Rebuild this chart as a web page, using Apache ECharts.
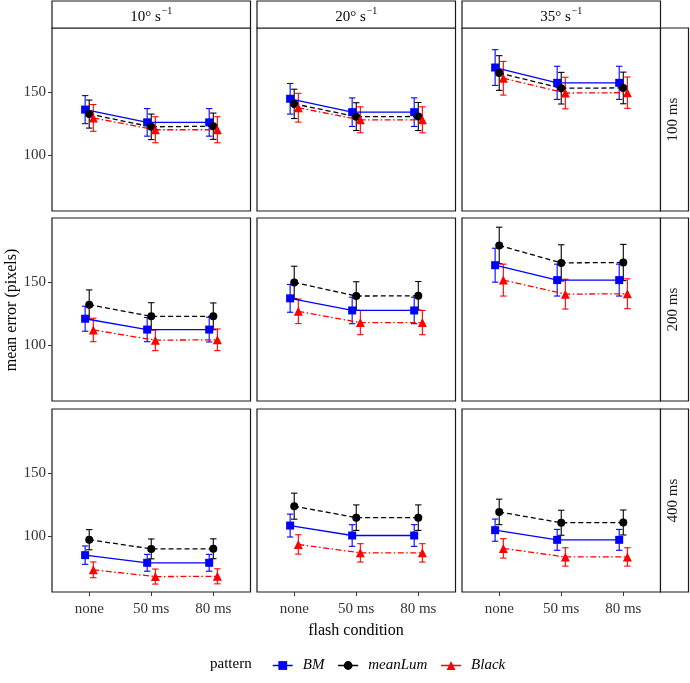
<!DOCTYPE html>
<html>
<head>
<meta charset="utf-8">
<script src="https://cdn.jsdelivr.net/npm/echarts@6/dist/echarts.min.js"></script>
<style>
html,body{margin:0;padding:0;background:#fff;}
#chart{width:690px;height:683px;}
</style>
</head>
<body>
<div id="chart"></div>
<script>
// ---- data ----
const conditions = ['none', '50 ms', '80 ms'];
const speedLabels = ['10° s', '20° s', '35° s'];
const durationLabels = ['100 ms', '200 ms', '400 ms'];
const patterns = ['BM', 'meanLum', 'Black'];

// [duration][speed][condition]
const bmMean = [
  [[136, 126, 126], [144.5, 134, 134], [169, 157, 157]],
  [[121, 112.5, 112.5], [137, 127.5, 127.5], [163, 151.3, 151.3]],
  [[85.4, 79.4, 79.4], [108.6, 100.8, 100.8], [105, 97.4, 97.4]]
];
const bmErr = [
  [[11, 10.8, 10.8], [12, 11.2, 11.2], [14, 13, 13]],
  [[9.8, 9.5, 9.7], [10.9, 10.4, 10.4], [13.3, 12.5, 12.5]],
  [[7.2, 6.6, 6.6], [9, 8.5, 8.5], [8.7, 8.2, 8.2]]
];
const mlMean = [
  [[132.5, 122.5, 123], [140.5, 130.5, 130.6], [164.7, 152.8, 153]],
  [[132, 122.9, 122.9], [149.5, 138.8, 139], [178.5, 164.8, 165.1]],
  [[97.5, 90.3, 90.4], [123.8, 114.8, 114.8], [119.3, 110.8, 111]]
];
const mlErr = [
  [[11, 10, 10.3], [11.5, 10.9, 11], [13.6, 12.4, 12.4]],
  [[11.6, 10.7, 10.5], [12.7, 11.2, 11.2], [14.3, 14.2, 14.2]],
  [[7.9, 7.8, 7.8], [10.2, 10, 10], [10, 9.8, 9.8]]
];
const blMean = [
  [[129.5, 120.2, 120.2], [137.5, 128, 128], [160.6, 149, 149.3]],
  [[112.2, 104.2, 104.5], [126.8, 118, 118], [151.3, 140.3, 140.6]],
  [[73.9, 68.6, 68.8], [93.8, 87.2, 87.2], [90.7, 84, 84]]
];
const blErr = [
  [[10.5, 10.2, 10.2], [11.3, 10.2, 10.2], [13.2, 12.4, 12.3]],
  [[9.2, 8.2, 8.5], [9.6, 9.5, 9.5], [12.5, 11.7, 11.7]],
  [[6.2, 5.9, 5.9], [7.6, 7.2, 7.2], [7.6, 7.2, 7.2]]
];
const yTicks = [100, 150];
const xTicks = [1, 2, 3];

// ---- styling / layout ----
const FONT = 'Liberation Serif';
const L = 52, W = 198.5, GX = 6.5, H = 183;
const TOPS = [28, 218, 409];
const STRIP_H = 27, STRIP_W = 28;
const BORDER = '#1a1a1a';
const dodge = [-0.066, 0, 0.066];
const styles = [
  {color: '#0000FF', symbol: 'rect', size: 8, type: 'solid'},
  {color: '#000000', symbol: 'circle', size: 8, type: [5, 3]},
  {color: '#FF0000', symbol: 'triangle', size: 9, type: [6, 2.5, 1.5, 2.5]}
];
const means = [bmMean, mlMean, blMean];
const errs = [bmErr, mlErr, blErr];

const grids = [], xAxes = [], yAxes = [], series = [], graphics = [];
for (let r = 0; r < 3; r++) {
  for (let c = 0; c < 3; c++) {
    const g = r * 3 + c;
    const left = L + c * (W + GX);
    grids.push({left: left, top: TOPS[r], width: W, height: H, show: true,
      borderColor: BORDER, borderWidth: 1.2, backgroundColor: '#fff'});
    xAxes.push({type: 'value', gridIndex: g, min: 0.4, max: 3.6,
      splitLine: {show: false}, axisLine: {show: false},
      axisTick: {show: r === 2, customValues: xTicks, length: 4, lineStyle: {color: '#333'}},
      axisLabel: {show: r === 2, customValues: xTicks, margin: 10,
        formatter: v => conditions[Math.round(v) - 1],
        fontFamily: FONT, fontSize: 15, color: '#333'}});
    yAxes.push({type: 'value', gridIndex: g, min: 56.5, max: 200,
      splitLine: {show: false}, axisLine: {show: false},
      axisTick: {show: c === 0, customValues: yTicks, length: 4, lineStyle: {color: '#333'}},
      axisLabel: {show: c === 0, customValues: yTicks, margin: 6,
        fontFamily: FONT, fontSize: 15, color: '#333'}});
    for (let p = 0; p < 3; p++) {
      const st = styles[p];
      const m = means[p][r][c], e = errs[p][r][c];
      const errData = m.map((v, i) => [xTicks[i] + dodge[p], v - e[i], v + e[i]]);
      series.push({
        type: 'custom', name: patterns[p] + ' err', xAxisIndex: g, yAxisIndex: g,
        z: 2, silent: true,
        encode: {x: 0, y: [1, 2]},
        data: errData,
        renderItem: (params, api) => {
          const x = api.value(0);
          const a = api.coord([x, api.value(1)]);
          const b = api.coord([x, api.value(2)]);
          const cw = 3.2;
          const s = {stroke: st.color, lineWidth: 1.1};
          return {type: 'group', children: [
            {type: 'line', shape: {x1: a[0], y1: a[1], x2: b[0], y2: b[1]}, style: s},
            {type: 'line', shape: {x1: a[0] - cw, y1: a[1], x2: a[0] + cw, y2: a[1]}, style: s},
            {type: 'line', shape: {x1: b[0] - cw, y1: b[1], x2: b[0] + cw, y2: b[1]}, style: s}
          ]};
        }
      });
      series.push({
        type: 'line', name: patterns[p], xAxisIndex: g, yAxisIndex: g, z: 3,
        data: m.map((v, i) => [xTicks[i] + dodge[p], v]),
        symbol: st.symbol, symbolSize: st.size, showSymbol: true,
        itemStyle: {color: st.color},
        lineStyle: {color: st.color, width: 1.3, type: st.type},
        emphasis: {disabled: true}
      });
    }
  }
}

// strips (top: speed, right: duration)
for (let c = 0; c < 3; c++) {
  const left = L + c * (W + GX);
  graphics.push({type: 'rect', shape: {x: left, y: TOPS[0] - STRIP_H, width: W, height: STRIP_H},
    style: {fill: '#fff', stroke: BORDER, lineWidth: 1.2}, z: 10});
  graphics.push({type: 'text', x: left + W / 2, y: TOPS[0] - STRIP_H / 2 + 1, z: 11,
    style: {text: '{a|' + speedLabels[c] + '}{b|−1}', align: 'center', verticalAlign: 'middle',
      rich: {a: {fontFamily: FONT, fontSize: 15, color: '#1a1a1a', lineHeight: 18, verticalAlign: 'bottom'},
             b: {fontFamily: FONT, fontSize: 10, color: '#1a1a1a', lineHeight: 18, verticalAlign: 'top', padding: [0, 0, 0, 1]}}}});
}
const rx = L + 3 * W + 2 * GX;
for (let r = 0; r < 3; r++) {
  graphics.push({type: 'rect', shape: {x: rx, y: TOPS[r], width: STRIP_W, height: H},
    style: {fill: '#fff', stroke: BORDER, lineWidth: 1.2}, z: 10});
  graphics.push({type: 'text', x: rx + STRIP_W / 2 - 1, y: TOPS[r] + H / 2, rotation: Math.PI / 2, z: 11,
    style: {text: durationLabels[r], align: 'center', verticalAlign: 'middle',
      fontFamily: FONT, fontSize: 15, fill: '#1a1a1a'}});
}
// axis titles and legend title
graphics.push({type: 'text', x: 356, y: 631, z: 11,
  style: {text: 'flash condition', align: 'center', verticalAlign: 'middle', fontFamily: FONT, fontSize: 16, fill: '#000'}});
graphics.push({type: 'text', x: 12, y: 310, rotation: Math.PI / 2, z: 11,
  style: {text: 'mean error (pixels)', align: 'center', verticalAlign: 'middle', fontFamily: FONT, fontSize: 16, fill: '#000'}});
graphics.push({type: 'text', x: 210, y: 664, z: 11,
  style: {text: 'pattern', align: 'left', verticalAlign: 'middle', fontFamily: FONT, fontSize: 15, fill: '#000'}});

const chart = echarts.init(document.getElementById('chart'), null, {renderer: 'canvas'});
chart.setOption({
  animation: false,
  backgroundColor: '#fff',
  grid: grids,
  xAxis: xAxes,
  yAxis: yAxes,
  series: series,
  graphic: graphics,
  legend: {
    data: patterns, left: 267, top: 653, orient: 'horizontal',
    itemWidth: 20, itemHeight: 11, itemGap: 13,
    lineStyle: {type: 'solid', width: 1.5},
    textStyle: {fontFamily: FONT, fontSize: 15, fontStyle: 'italic', color: '#000', padding: [0, 0, 0, 5]},
    selectedMode: false
  }
});
</script>
</body>
</html>
